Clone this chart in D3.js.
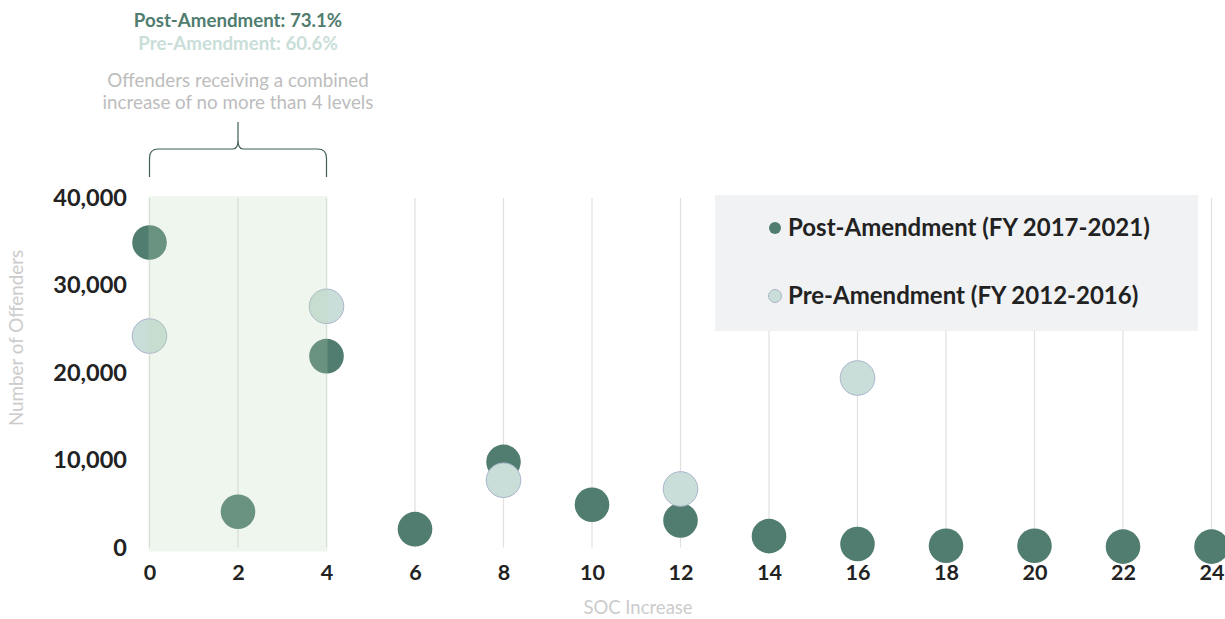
<!DOCTYPE html>
<html><head><meta charset="utf-8">
<script src="https://cdn.jsdelivr.net/npm/d3@7"></script>
<style>body{margin:0;background:#fff;}svg{display:block;font-family:Lato, "Open Sans", sans-serif;}</style>
</head><body>
<svg id="chart" width="1225" height="619"></svg>
<script>
const socTicks = [0,2,4,6,8,10,12,14,16,18,20,22,24];
const yTicks = [0,10000,20000,30000,40000];
const postX = [0,2,4,6,8,10,12,14,16,18,20,22,24];
const postY = [34900,4100,21900,2100,9800,4900,3100,1300,400,200,200,100,100];
const preX = [0,4,8,12,16];
const preY = [24200,27600,7700,6700,19400];
const seriesNames = ["Post-Amendment (FY 2017-2021)","Pre-Amendment (FY 2012-2016)"];
const annotationLines = ["Post-Amendment: 73.1%","Pre-Amendment: 60.6%","Offenders receiving a combined","increase of no more than 4 levels"];
const highlightRange = [0,4];

const svg = d3.select("#chart");
const x = d3.scaleLinear().domain([0,24]).range([149.5,1211.5]);
const y = d3.scaleLinear().domain([0,40000]).range([547.5,198]);
const darkC = "#507d6f", lightC = "#c9ded8", lightStroke = "#aab5cc";

// vertical gridlines
svg.append("g").selectAll("line").data(socTicks).join("line")
  .attr("x1",d=>x(d)).attr("x2",d=>x(d)).attr("y1",y(40000)).attr("y2",y(0))
  .attr("stroke","#e0e0e0").attr("stroke-width",1.2);

// y axis labels
const yAxis = d3.axisLeft(y).tickValues(yTicks).tickSize(0).tickPadding(0).tickFormat(d3.format(","));
const gy = svg.append("g").attr("transform","translate(127,0)").call(yAxis);
gy.select(".domain").remove();
gy.selectAll("text").attr("font-family","Lato").attr("font-weight","bold").attr("font-size",23.5).attr("fill","#222");

// x axis labels
const xAxis = d3.axisBottom(x).tickValues(socTicks).tickSize(0).tickPadding(0);
const gx = svg.append("g").attr("transform","translate(0,565)").call(xAxis);
gx.select(".domain").remove();
gx.selectAll("text").attr("font-family","Lato").attr("font-weight","bold").attr("font-size",21.5).attr("fill","#222");

// legend box
const lg = svg.append("g");
lg.append("rect").attr("x",715).attr("y",195).attr("width",483).attr("height",136).attr("fill","#f1f2f4");
seriesNames.forEach((n,i)=>{
  const cy = 228 + i*68;
  lg.append("circle").attr("cx",775).attr("cy",cy).attr("r",i===0?6:6.5)
    .attr("fill",i===0?darkC:lightC).attr("stroke",i===0?"none":lightStroke).attr("stroke-width",1);
  lg.append("text").attr("x",788).attr("y",cy).attr("dy","0.35em").text(n)
    .attr("font-weight","bold").attr("font-size",24).attr("fill","#222");
});

// points
svg.append("g").selectAll("circle").data(postX.map((d,i)=>[d,postY[i]])).join("circle")
  .attr("cx",d=>x(d[0])).attr("cy",d=>y(d[1])).attr("r",17.3).attr("fill",darkC);
svg.append("g").selectAll("circle").data(preX.map((d,i)=>[d,preY[i]])).join("circle")
  .attr("cx",d=>x(d[0])).attr("cy",d=>y(d[1])).attr("r",17.3).attr("fill",lightC)
  .attr("stroke",lightStroke).attr("stroke-width",1);

// highlight overlay
svg.append("rect").attr("x",x(highlightRange[0])-1).attr("y",y(40000)-2)
  .attr("width",x(highlightRange[1])-x(highlightRange[0])+2).attr("height",y(0)-y(40000)+6)
  .attr("fill","rgb(190,217,185)").attr("fill-opacity",0.24);

// brace
const bx0 = x(highlightRange[0]), bx1 = x(highlightRange[1]), bm = (bx0+bx1)/2;
const path = `M${bx0},177 L${bx0},158 Q${bx0},149 ${bx0+9},149 L${bm-5},149 Q${bm},149 ${bm},140 L${bm},122 M${bm},140 Q${bm},149 ${bm+5},149 L${bx1-9},149 Q${bx1},149 ${bx1},158 L${bx1},177`;
svg.append("path").attr("d",path).attr("fill","none").attr("stroke","#3d5f55").attr("stroke-width",1.2);

// annotation text
const ann = svg.append("g").attr("text-anchor","middle");
ann.append("text").attr("x",bm).attr("y",27).text(annotationLines[0]).attr("font-weight","bold").attr("font-size",18.7).attr("fill",darkC);
ann.append("text").attr("x",bm).attr("y",50).text(annotationLines[1]).attr("font-weight","bold").attr("font-size",18.7).attr("fill",lightC);
ann.append("text").attr("x",bm).attr("y",87).text(annotationLines[2]).attr("font-size",18.8).attr("fill","#bdbdbd");
ann.append("text").attr("x",bm).attr("y",109).text(annotationLines[3]).attr("font-size",18.8).attr("fill","#bdbdbd");

// axis titles
svg.append("text").attr("transform","translate(23,338) rotate(-90)").attr("text-anchor","middle")
  .text("Number of Offenders").attr("font-size",18.8).attr("fill","#cccccc");
svg.append("text").attr("x",638).attr("y",614).attr("text-anchor","middle")
  .text("SOC Increase").attr("font-size",18.5).attr("fill","#cccccc");
</script>
</body></html>
